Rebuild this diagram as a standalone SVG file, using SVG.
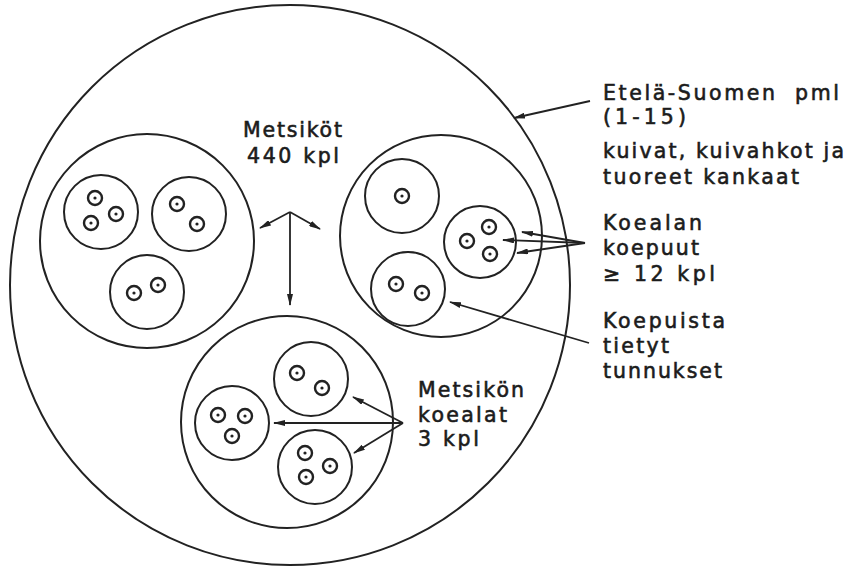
<svg xmlns="http://www.w3.org/2000/svg" xmlns:xlink="http://www.w3.org/1999/xlink" width="846" height="571" viewBox="0 0 846 571">
  <style>
    .c { fill: none; stroke: #222; stroke-width: 2; }
    .a { fill: none; stroke: #222; stroke-width: 1.8; marker-end: url(#ah); }
    .t { font-family: "DejaVu Sans", "Liberation Sans", Arial, sans-serif; font-size: 20.5px; fill: #1c1c1c; stroke: #1c1c1c; stroke-width: 0.6; }
  </style>
  <defs>
    <marker id="ah" viewBox="0 0 12 6" refX="11" refY="3" markerWidth="12" markerHeight="6" markerUnits="userSpaceOnUse" orient="auto">
      <path d="M0,0 L12,3 L0,6 z" fill="#222"/>
    </marker>
    <g id="tree">
      <circle r="7" fill="none" stroke="#222" stroke-width="2.4"/>
      <circle r="1.6" fill="#222"/>
    </g>
  </defs>
  <rect width="846" height="571" fill="#fff"/>

  <g id="etela-suomi">
    <circle class="c" cx="290" cy="285" r="280"/>
    <text class="t" x="603" y="100" textLength="172" lengthAdjust="spacing">Etelä-Suomen</text>
    <text class="t" x="795" y="100" textLength="44" lengthAdjust="spacing">pml</text>
    <text class="t" x="603" y="124" textLength="83" lengthAdjust="spacing">(1-15)</text>
    <text class="t" x="603" y="158" textLength="241" lengthAdjust="spacing">kuivat, kuivahkot ja</text>
    <text class="t" x="603" y="184" textLength="196" lengthAdjust="spacing">tuoreet kankaat</text>
  </g>

  <g id="metsikot-label">
    <text class="t" x="243" y="137" textLength="99" lengthAdjust="spacing">Metsiköt</text>
    <text class="t" x="247" y="163" textLength="92" lengthAdjust="spacing">440 kpl</text>
  </g>

  <g id="metsikko-vasen">
    <circle class="c" cx="147" cy="241" r="107"/>
    <g id="koeala-v1">
      <circle class="c" cx="101" cy="212" r="37"/>
      <use xlink:href="#tree" href="#tree" x="95" y="198"/>
      <use xlink:href="#tree" href="#tree" x="116" y="214"/>
      <use xlink:href="#tree" href="#tree" x="91" y="223"/>
    </g>
    <g id="koeala-v2">
      <circle class="c" cx="189" cy="214" r="37"/>
      <use xlink:href="#tree" href="#tree" x="177" y="204"/>
      <use xlink:href="#tree" href="#tree" x="197" y="224"/>
    </g>
    <g id="koeala-v3">
      <circle class="c" cx="147" cy="292" r="37"/>
      <use xlink:href="#tree" href="#tree" x="134" y="293"/>
      <use xlink:href="#tree" href="#tree" x="158" y="285"/>
    </g>
  </g>

  <g id="metsikko-oikea">
    <circle class="c" cx="441" cy="236" r="101"/>
    <g id="koeala-o1">
      <circle class="c" cx="402" cy="196" r="37"/>
      <use xlink:href="#tree" href="#tree" x="402" y="196"/>
    </g>
    <g id="koeala-o2">
      <circle class="c" cx="480" cy="242" r="36"/>
      <use xlink:href="#tree" href="#tree" x="489" y="227"/>
      <use xlink:href="#tree" href="#tree" x="467" y="241"/>
      <use xlink:href="#tree" href="#tree" x="490" y="254"/>
    </g>
    <g id="koeala-o3">
      <circle class="c" cx="408" cy="289" r="37"/>
      <use xlink:href="#tree" href="#tree" x="396" y="284"/>
      <use xlink:href="#tree" href="#tree" x="422" y="293"/>
    </g>
  </g>

  <g id="metsikko-ala">
    <circle class="c" cx="287" cy="422" r="106"/>
    <g id="koeala-a1">
      <circle class="c" cx="311" cy="379" r="37"/>
      <use xlink:href="#tree" href="#tree" x="297" y="373"/>
      <use xlink:href="#tree" href="#tree" x="322" y="388"/>
    </g>
    <g id="koeala-a2">
      <circle class="c" cx="232" cy="423" r="37"/>
      <use xlink:href="#tree" href="#tree" x="218" y="415"/>
      <use xlink:href="#tree" href="#tree" x="245" y="416"/>
      <use xlink:href="#tree" href="#tree" x="232" y="436"/>
    </g>
    <g id="koeala-a3">
      <circle class="c" cx="315" cy="467" r="37"/>
      <use xlink:href="#tree" href="#tree" x="305" y="453"/>
      <use xlink:href="#tree" href="#tree" x="330" y="466"/>
      <use xlink:href="#tree" href="#tree" x="306" y="477"/>
    </g>
  </g>

  <g id="metsikon-koealat-label">
    <text class="t" x="418" y="397" textLength="106" lengthAdjust="spacing">Metsikön</text>
    <text class="t" x="418" y="422" textLength="89" lengthAdjust="spacing">koealat</text>
    <text class="t" x="418" y="446" textLength="61" lengthAdjust="spacing">3 kpl</text>
  </g>

  <g id="koepuut-label">
    <text class="t" x="603" y="230" textLength="99" lengthAdjust="spacing">Koealan</text>
    <text class="t" x="603" y="255" textLength="96" lengthAdjust="spacing">koepuut</text>
    <text class="t" x="603" y="281" textLength="112" lengthAdjust="spacing">≥ 12 kpl</text>
  </g>

  <g id="tunnukset-label">
    <text class="t" x="603" y="328" textLength="122" lengthAdjust="spacing">Koepuista</text>
    <text class="t" x="603" y="353" textLength="66" lengthAdjust="spacing">tietyt</text>
    <text class="t" x="603" y="378" textLength="119" lengthAdjust="spacing">tunnukset</text>
  </g>

  <g id="connectors">
    <line class="a" x1="290" y1="212" x2="260" y2="228"/>
    <line class="a" x1="290" y1="212" x2="320" y2="229"/>
    <line class="a" x1="290" y1="212" x2="290" y2="305"/>
    <line class="a" x1="590" y1="101" x2="514" y2="118"/>
    <line class="a" x1="585" y1="243" x2="522" y2="232"/>
    <line class="a" x1="585" y1="243" x2="503" y2="240"/>
    <line class="a" x1="585" y1="243" x2="517" y2="253"/>
    <line class="a" x1="589" y1="343" x2="450" y2="302"/>
    <line class="a" x1="403" y1="423" x2="274" y2="423"/>
    <line class="a" x1="403" y1="423" x2="353" y2="397"/>
    <line class="a" x1="403" y1="423" x2="354" y2="453"/>
  </g>
</svg>
